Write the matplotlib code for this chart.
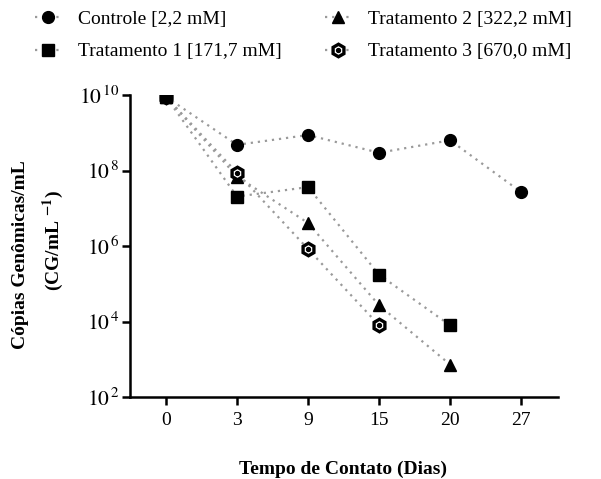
import numpy as np
import matplotlib
matplotlib.use("Agg")
import matplotlib.pyplot as plt
from matplotlib.lines import Line2D
from matplotlib.ticker import FixedLocator, NullLocator

plt.rcParams["font.family"] = ["Liberation Serif", "DejaVu Serif"]
plt.rcParams["mathtext.fontset"] = "stix"

# data (log10 of genomic copies per mL)
dias = ["0", "3", "9", "15", "20", "27"]
controle = [9.95, 8.68, 8.94, 8.47, 8.80, 7.43]
trat1 = [9.95, 7.31, 7.56, 5.24, 3.90]
trat2 = [9.95, 7.84, 6.61, 4.43, 2.86]
trat3 = [9.95, 7.94, 5.92, 3.90]
labels = ["Controle [2,2 mM]", "Tratamento 1 [171,7 mM]",
          "Tratamento 2 [322,2 mM]", "Tratamento 3 [670,0 mM]"]
yticks = [2, 4, 6, 8, 10]

W, H = 601, 479
fig = plt.figure(figsize=(W / 100, H / 100), dpi=100)
ax = fig.add_axes([130 / W, 1 - 397 / H, 428 / W, 302 / H])

line_kw = dict(color="#9a9a9a", linestyle=(0, (1, 2.2)), linewidth=1.6,
               markeredgecolor="black", markerfacecolor="black")

x = np.arange(len(dias))
h2, = ax.plot(x[:len(trat2)], 10 ** np.array(trat2), marker="^", markersize=9,
              zorder=2.0, **line_kw)
kw3 = dict(line_kw)
kw3["markerfacecolor"] = "white"
h3, = ax.plot(x[:len(trat3)], 10 ** np.array(trat3), marker="h", markersize=9,
              markeredgewidth=2.4, zorder=2.1, **kw3)
ax.plot(x[:len(trat3)], 10 ** np.array(trat3), linestyle="none", marker="o",
        markersize=2.8, color="black", zorder=2.15)
h0, = ax.plot(x[:len(controle)], 10 ** np.array(controle), marker="o", markersize=8.5,
              zorder=2.2, **line_kw)
h1, = ax.plot(x[:len(trat1)], 10 ** np.array(trat1), marker="s", markersize=8.5,
              zorder=2.3, **line_kw)

ax.set_yscale("log")
ax.set_ylim(1e2, 1e10)
ax.set_xlim(-0.507, 5.52)
ax.yaxis.set_major_locator(FixedLocator([10.0 ** t for t in yticks]))
ax.yaxis.set_minor_locator(NullLocator())
ax.set_yticklabels([r"$10^{\,%d}$" % t for t in yticks], fontsize=15.5)
ax.set_xticks(x)
ax.set_xticklabels(dias, fontsize=14)

for s in ["top", "right"]:
    ax.spines[s].set_visible(False)
for s in ["left", "bottom"]:
    ax.spines[s].set_linewidth(1.8)
ax.tick_params(axis="both", width=1.8, length=5.5, direction="out")
ax.tick_params(axis="x", pad=5)
ax.tick_params(axis="y", pad=2)

fig.text(343 / W, 1 - 469 / H, "Tempo de Contato (Dias)", fontsize=14,
         fontweight="bold", ha="center", va="center")
fig.text(21 / W, 1 - 255 / H, "Cópias Genômicas/mL", rotation=90, fontsize=14,
         fontweight="bold", ha="center", va="center")
fig.text(53 / W, 1 - 240 / H, r"(CG/mL $^{\mathbf{-1}}$)", rotation=90, fontsize=14,
         fontweight="bold", ha="center", va="center")

dot = Line2D([], [], linestyle="none", marker="o", markersize=2.8, color="black")
leg_kw = dict(frameon=False, loc="upper left", fontsize=14, handlelength=1.3,
              handletextpad=0.9, labelspacing=0.78, borderpad=0, borderaxespad=0)
fig.legend([h0, h1], labels[:2], bbox_to_anchor=(35 / W, 1 - 10 / H), **leg_kw)
fig.legend([h2, (h3, dot)], labels[2:], bbox_to_anchor=(325 / W, 1 - 10 / H), **leg_kw)

fig.savefig("out.png", dpi=100)
